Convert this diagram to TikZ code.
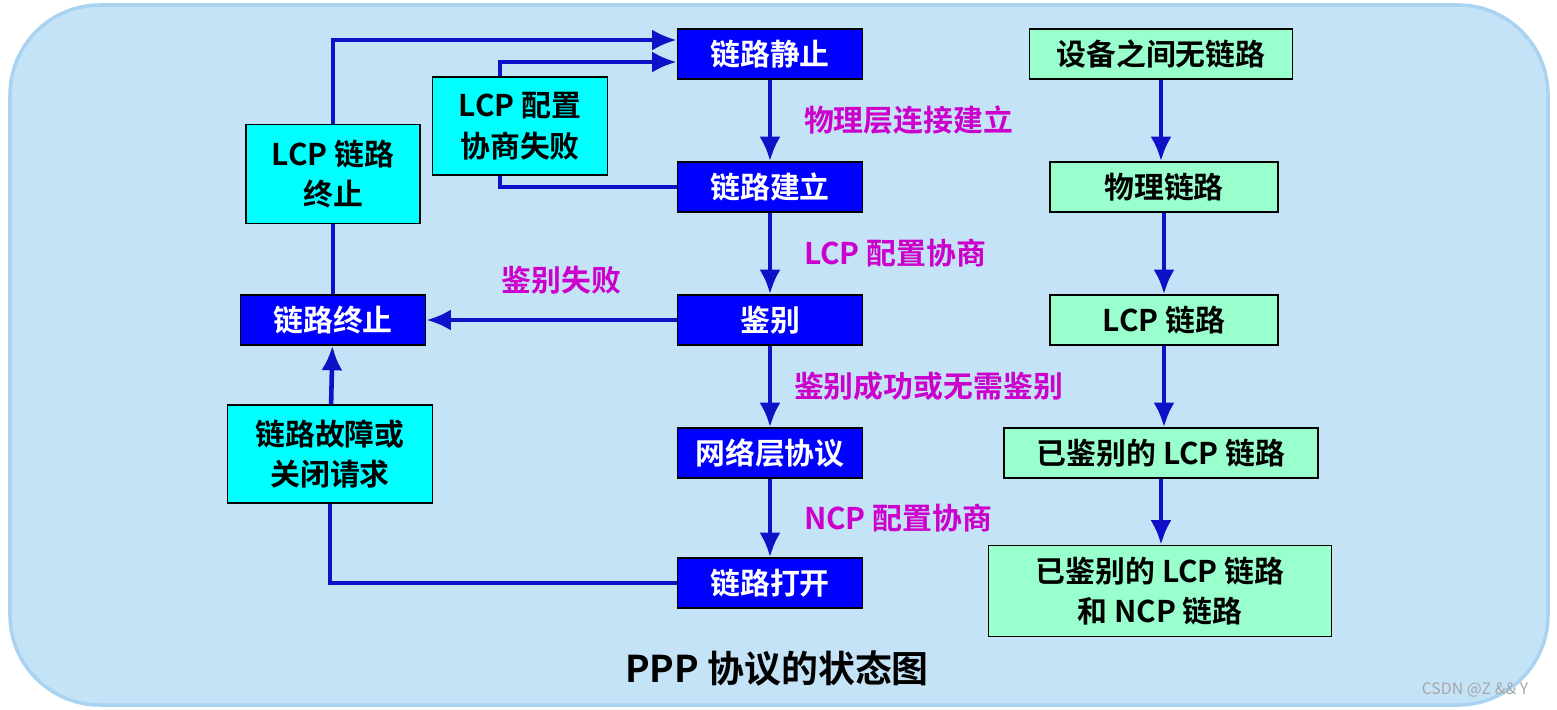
\documentclass[tikz,border=0pt]{standalone}
\usepackage{fontspec}
\setmainfont{Noto Sans CJK SC}[BoldFont={* Bold}]
\usetikzlibrary{positioning,arrows.meta}
\definecolor{bgblue}{HTML}{C5E3F6}
\definecolor{bgline}{HTML}{A9D3F0}
\definecolor{stblue}{HTML}{0000FF}
\definecolor{lnblue}{HTML}{1010C8}
\definecolor{mag}{HTML}{CC00CC}
\definecolor{mint}{HTML}{99FFCC}
\definecolor{aqua}{HTML}{00FFFF}
\pgfdeclarelayer{back}
\pgfdeclarelayer{lines}
\pgfsetlayers{back,lines,main}
\tikzset{
  state/.style={draw=black, fill=stblue, text=white, font=\fontsize{8.5}{10}\selectfont\bfseries, minimum width=1.85cm, minimum height=0.5cm, inner sep=0pt},
  cond/.style={draw=black, fill=aqua, align=center, font=\fontsize{8.5}{11.5}\selectfont\bfseries, inner sep=0pt},
  link/.style={draw=black, fill=mint, align=center, font=\fontsize{8.5}{11.5}\selectfont\bfseries, minimum height=0.5cm, inner sep=0pt},
  lbl/.style={text=mag, font=\fontsize{8.5}{10}\selectfont\bfseries},
  flow/.style={draw=lnblue, line width=1.3pt, -{Latex[length=7pt,width=6pt]}},
  plain/.style={draw=lnblue, line width=1.3pt}
}
\begin{document}
\begin{tikzpicture}
	\useasboundingbox (0,0) rectangle (15.57,7.09);
	\begin{pgfonlayer}{back}
		\draw[bgline, fill=bgblue, line width=1pt, rounded corners=0.9cm] (0.1,0.04) rectangle (15.48,7.04);
	\end{pgfonlayer}

	% left column of states
	\node(quiet)[state] at (7.70,6.55) {链路静止};
	\node(setup)[state] at (7.70,5.22) {链路建立};
	\node(auth)[state] at (7.70,3.89) {鉴别};
	\node(net)[state] at (7.70,2.56) {网络层协议};
	\node(open)[state] at (7.70,1.26) {链路打开};
	\node(term)[state] at (3.33,3.89) {链路终止};

	\node(lcpend)[cond, minimum width=1.74cm, minimum height=0.99cm] at (3.33,5.35) {LCP 链路\\终止};
	\node(lcpfail)[cond, minimum width=1.75cm, minimum height=0.98cm] at (5.20,5.83) {LCP 配置\\协商失败};
	\node(fault)[cond, minimum width=2.05cm, minimum height=0.98cm] at (3.30,2.55) {链路故障或\\关闭请求};

	% right column of links
	\node(none)[link, minimum width=2.63cm] at (11.61,6.55) {设备之间无链路};
	\node(phys)[link, minimum width=2.28cm] at (11.64,5.22) {物理链路};
	\node(lcp)[link, minimum width=2.28cm] at (11.64,3.89) {LCP 链路};
	\node(alcp)[link, minimum width=3.14cm] at (11.61,2.56) {已鉴别的 LCP 链路};
	\node(ancp)[link, minimum width=3.43cm, minimum height=0.91cm] at (11.60,1.18) {已鉴别的 LCP 链路\\和 NCP 链路};

	\path[flow] (quiet) -- node[lbl, right=0.2cm]{物理层连接建立} (setup);
	\path[flow] (setup) -- node[lbl, right=0.2cm]{LCP 配置协商} (auth);
	\path[flow] (auth) -- node[lbl, right=0.1cm]{鉴别成功或无需鉴别} (net);
	\path[flow] (net) -- node[lbl, right=0.2cm]{NCP 配置协商} (open);
	\path[flow] (auth) -- node[lbl, above=0.12cm, xshift=0.1cm]{鉴别失败} (term);
	\path[flow] (fault) -- (term);
	\path[plain] (term) -- (lcpend);
	\path[flow] (lcpend.north) |- ([yshift=0.14cm]quiet.west);
	\begin{pgfonlayer}{lines}
		\path[plain] (open.west) -| (fault.south);
		\path[flow] (setup.west) -| ([xshift=-0.2cm]lcpfail.center) |- ([yshift=-0.08cm]quiet.west);
	\end{pgfonlayer}

	\path[flow] (none.south) -- (none.south |- phys.north);
	\path[flow] (phys) -- (lcp);
	\path[flow] (lcp) -- (alcp.north -| lcp.south);
	\path[flow] (alcp.south) -- (alcp.south |- ancp.north);

	\node(title)[font=\fontsize{10.5}{12}\selectfont\bfseries] at (7.77,0.41) {PPP 协议的状态图};
	\node(mark)[text=gray!70, font=\fontsize{4.5}{5}\selectfont] at (14.75,0.19) {CSDN @Z \&\& Y};
\end{tikzpicture}
\end{document}
